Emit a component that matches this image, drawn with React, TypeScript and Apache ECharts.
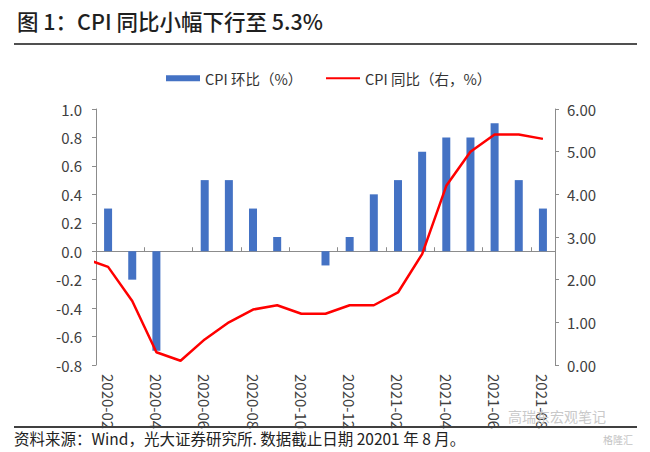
import React, { useEffect, useRef } from "react";
import * as echarts from "echarts";

const categories = [
  "2020-02", "2020-03", "2020-04", "2020-05", "2020-06", "2020-07", "2020-08",
  "2020-09", "2020-10", "2020-11", "2020-12", "2021-01", "2021-02", "2021-03",
  "2021-04", "2021-05", "2021-06", "2021-07", "2021-08",
];
const momValues = [0.3, -0.2, -0.7, 0, 0.5, 0.5, 0.3, 0.1, 0, -0.1, 0.1, 0.4, 0.5, 0.7, 0.8, 0.8, 0.9, 0.5, 0.3];
// YoY line starts one month earlier (2020-01), partially visible at the left edge
const yoyMonths = ["2020-01", ...categories];
const yoyValues = [2.5, 2.3, 1.5, 0.3, 0.1, 0.6, 1.0, 1.3, 1.4, 1.2, 1.2, 1.4, 1.4, 1.7, 2.6, 4.2, 5.0, 5.4, 5.4, 5.3];

const titleText = "图 1：CPI 同比小幅下行至 5.3%";
const sourceText = "资料来源：Wind，光大证券研究所. 数据截止日期 20201 年 8 月。";
const barName = "CPI 环比（%）";
const lineName = "CPI 同比（右，%）";

const FONT = "'Noto Sans CJK SC', 'Noto Sans', sans-serif";
const AXIS_COLOR = "#8c8c8c";
const LABEL_COLOR = "#404040";

export default function App() {
  const ref = useRef<HTMLDivElement>(null);
  useEffect(() => {
    if (!ref.current) return;
    const chart = echarts.init(ref.current, undefined, { renderer: "svg" });
    const legendText = { fontFamily: FONT, fontSize: 14.5, color: "#333" };
    const option: any = {
      animation: false,
      backgroundColor: "#ffffff",
      textStyle: { fontFamily: FONT },
      title: {
        text: titleText,
        left: 12,
        top: 5,
        textStyle: { fontFamily: FONT, fontSize: 21.5, fontWeight: 500, color: "#1f1f1f" },
      },
      legend: [
        {
          left: 161,
          top: 66,
          itemWidth: 34,
          itemHeight: 6,
          textStyle: legendText,
          data: [{ name: barName, icon: "rect" }],
        },
        {
          left: 321,
          top: 66,
          itemWidth: 34,
          itemHeight: 2,
          textStyle: legendText,
          data: [{ name: lineName, icon: "rect" }],
        },
      ],
      grid: { left: 96, right: 95, top: 109, bottom: 87, containLabel: false },
      xAxis: [
        {
          type: "category",
          data: categories,
          position: "bottom",
          axisLine: { show: true, onZero: true, onZeroAxisIndex: 0, lineStyle: { color: AXIS_COLOR, width: 1 } },
          axisTick: { show: true, interval: 1, inside: true, length: 4, lineStyle: { color: AXIS_COLOR } },
          axisLabel: { show: false },
          splitLine: { show: false },
        },
        {
          type: "category",
          data: categories,
          position: "bottom",
          axisLine: { show: false, onZero: false },
          axisTick: { show: false },
          axisLabel: {
            show: true,
            interval: 1,
            rotate: -90,
            margin: 9,
            fontSize: 15,
            fontFamily: FONT,
            color: LABEL_COLOR,
          },
          splitLine: { show: false },
        },
        {
          type: "value",
          show: false,
          position: "top",
          min: 0.5,
          max: 19.5,
          splitLine: { show: false },
        },
      ],
      yAxis: [
        {
          type: "value",
          min: -0.8,
          max: 1.0,
          interval: 0.2,
          position: "left",
          axisLine: { show: true, lineStyle: { color: AXIS_COLOR } },
          axisTick: { show: true, length: 4, lineStyle: { color: AXIS_COLOR } },
          axisLabel: {
            margin: 14,
            fontSize: 15,
            fontFamily: FONT,
            color: LABEL_COLOR,
            formatter: (v: number) => v.toFixed(1),
          },
          splitLine: { show: false },
        },
        {
          type: "value",
          min: 0,
          max: 6,
          interval: 1,
          position: "right",
          axisLine: { show: true, lineStyle: { color: AXIS_COLOR } },
          axisTick: { show: true, length: 4, lineStyle: { color: AXIS_COLOR } },
          axisLabel: {
            margin: 12,
            fontSize: 15,
            fontFamily: FONT,
            color: LABEL_COLOR,
            formatter: (v: number) => v.toFixed(2),
          },
          splitLine: { show: false },
        },
      ],
      series: [
        {
          name: barName,
          type: "bar",
          xAxisIndex: 0,
          yAxisIndex: 0,
          data: momValues,
          barWidth: 8,
          itemStyle: { color: "#4472c4" },
        },
        {
          name: lineName,
          type: "line",
          xAxisIndex: 2,
          yAxisIndex: 1,
          data: yoyValues.map((v, i) => [i, v]),
          symbol: "none",
          clip: true,
          lineStyle: { color: "#ff0000", width: 2.5 },
          itemStyle: { color: "#ff0000" },
          z: 3,
        },
      ],
      graphic: [
        {
          type: "line",
          shape: { x1: 14, y1: 44, x2: 637, y2: 44 },
          style: { stroke: "#505050", lineWidth: 2 },
        },
        {
          type: "text",
          left: 508,
          top: 409,
          style: { text: "高瑞东宏观笔记", fill: "#c9c9c9", font: `14px ${FONT}` },
          z: 10,
        },
        {
          type: "line",
          shape: { x1: 14, y1: 427, x2: 637, y2: 427 },
          style: { stroke: "#404040", lineWidth: 2 },
          z: 11,
        },
        {
          type: "text",
          left: 14,
          top: 430,
          style: { text: sourceText, fill: "#222", font: `15.5px ${FONT}` },
        },
        {
          type: "text",
          left: 603,
          top: 434,
          style: { text: "格隆汇", fill: "#c4c4c4", font: `10px ${FONT}` },
        },
      ],
    };
    chart.setOption(option);
    return () => chart.dispose();
  }, []);
  return <div ref={ref} style={{ width: 650, height: 452, position: "absolute", left: 0, top: 0 }} />;
}
